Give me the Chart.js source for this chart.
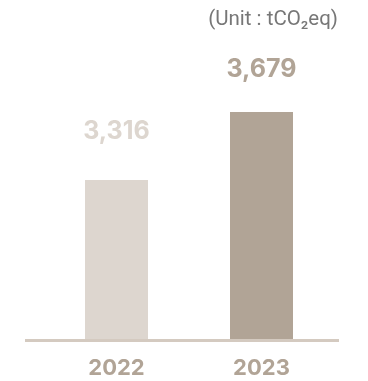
<!DOCTYPE html>
<html>
<head>
<meta charset="utf-8">
<script src="https://cdn.jsdelivr.net/npm/chart.js@4.4.1/dist/chart.umd.min.js"></script>
<style>
  html, body { margin: 0; padding: 0; background: #ffffff; }
  #wrap { width: 368px; height: 381px; position: relative; }
</style>
</head>
<body>
<div id="wrap"><canvas id="c" width="368" height="381"></canvas></div>
<script>
const categories = ['2022', '2023'];
const emissions = [3316, 3679];
const unitLabel = '(Unit : tCO\u2082eq)';

const barColors = ['#ddd6cf', '#b1a496'];
const labelColors = ['#ddd6cf', '#b1a496'];

const fmt = v => v.toLocaleString('en-US');

const extras = {
  id: 'extras',
  afterDatasetsDraw(chart, args, opts) {
    const ctx = chart.ctx;
    const ca = chart.chartArea;
    // baseline
    ctx.save();
    ctx.strokeStyle = '#d4cac0';
    ctx.lineWidth = 3;
    ctx.beginPath();
    ctx.moveTo(ca.left - 19, ca.bottom + 1.5);
    ctx.lineTo(ca.right + 5, ca.bottom + 1.5);
    ctx.stroke();
    // value labels
    const meta = chart.getDatasetMeta(0);
    ctx.font = 'bold 25px Inter';
    ctx.textAlign = 'center';
    ctx.textBaseline = 'middle';
    meta.data.forEach((bar, i) => {
      ctx.fillStyle = labelColors[i];
      ctx.fillText(fmt(emissions[i]), bar.x, bar.y - opts.offsets[i]);
    });
    // unit
    ctx.font = '20.5px Roboto';
    ctx.fillStyle = '#777777';
    ctx.textAlign = 'right';
    ctx.fillText(unitLabel, ca.right + 4, 20);
    ctx.restore();
  }
};

new Chart(document.getElementById('c'), {
  type: 'bar',
  data: {
    labels: categories,
    datasets: [{
      data: emissions,
      backgroundColor: barColors,
      borderWidth: 0,
      barPercentage: 0.4345,
      categoryPercentage: 1
    }]
  },
  options: {
    responsive: false,
    animation: false,
    devicePixelRatio: 1,
    layout: { padding: { left: 44, right: 34, top: 0, bottom: 0 } },
    plugins: {
      legend: { display: false },
      tooltip: { enabled: false },
      extras: { offsets: [49, 42.5] }
    },
    scales: {
      x: {
        grid: { display: false, drawTicks: false },
        border: { display: false },
        ticks: {
          color: '#b1a496',
          font: { family: 'Inter', size: 22, weight: 'bold' },
          padding: 16
        },
        afterFit(s) { s.height = 42; }
      },
      y: {
        display: false,
        min: 2467,
        max: 4277
      }
    }
  },
  plugins: [extras]
});
</script>
</body>
</html>
